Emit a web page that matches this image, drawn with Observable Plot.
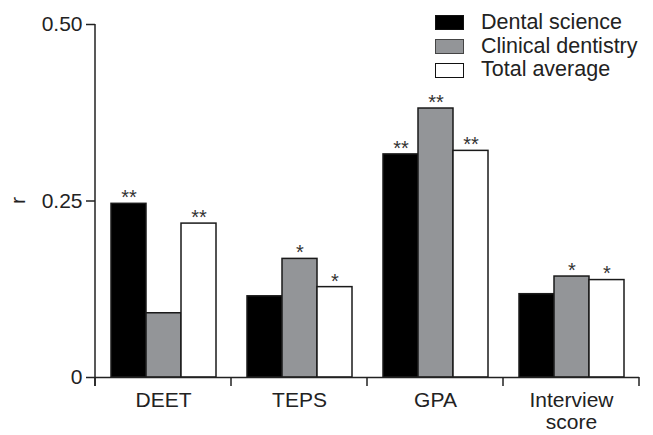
<!DOCTYPE html>
<html>
<head>
<meta charset="utf-8">
<script src="https://cdn.jsdelivr.net/npm/d3@7"></script>
<script src="https://cdn.jsdelivr.net/npm/@observablehq/plot@0.6"></script>
<style>
  html, body { margin: 0; padding: 0; background: #fff; }
  #wrap { position: relative; width: 653px; height: 435px; font-family: "Liberation Sans", Arial, sans-serif; }
  #legend { position: absolute; left: 435px; top: 11px; }
  .row { display: flex; align-items: center; height: 23.7px; }
  .sw { width: 27px; height: 13px; box-sizing: content-box; margin-right: 17px; }
  .lab { font-size: 21.5px; color: #222; line-height: 1; }
</style>
</head>
<body>
<div id="wrap"><div id="legend"></div></div>
<script>
const categories = ["DEET", "TEPS", "GPA", "Interview score"];
const series = ["Dental science", "Clinical dentistry", "Total average"];
const dentalScience = [0.246, 0.115, 0.316, 0.118];
const clinicalDentistry = [0.091, 0.168, 0.381, 0.143];
const totalAverage = [0.218, 0.128, 0.321, 0.138];
const dentalStars = ["**", "", "**", ""];
const clinicalStars = ["", "*", "**", "*"];
const totalStars = ["**", "*", "**", "*"];
const yTicks = [0, 0.25, 0.5];
const yTickLabels = ["0", "0.25", "0.50"];
const yLabel = "r";
const seriesFill = ["#000000", "#939598", "#ffffff"];

const values = [dentalScience, clinicalDentistry, totalAverage];
const stars = [dentalStars, clinicalStars, totalStars];
const rows = [];
categories.forEach((c, i) => {
  series.forEach((s, j) => {
    rows.push({category: c, series: s, value: values[j][i], stars: stars[j][i]});
  });
});

const chart = Plot.plot({
  width: 653,
  height: 435,
  marginLeft: 95,
  marginRight: 14,
  marginTop: 24,
  marginBottom: 58,
  style: {fontFamily: "'Liberation Sans', Arial, sans-serif", fontSize: "21px", color: "#222", background: "white", overflow: "visible"},
  fx: {domain: categories, padding: 0, label: null},
  x: {domain: series, axis: null, paddingInner: 0, paddingOuter: 0.41},
  y: {domain: [0, 0.5], label: null},
  color: {domain: series, range: seriesFill},
  marks: [
    Plot.axisY({ticks: yTicks, tickFormat: d => yTickLabels[yTicks.indexOf(d)], tickSize: 9, tickPadding: 4,
                fontSize: 21, label: null, stroke: "#222", strokeWidth: 1.5}),
    Plot.axisFx({anchor: "bottom", tickSize: 0, tickPadding: 13, fontSize: 21, lineHeight: 1.08, label: null,
                 tickFormat: d => d === "Interview score" ? "Interview\nscore" : d}),
    Plot.barY(rows, {fx: "category", x: "series", y: "value", fill: "series", stroke: "#1a1a1a", strokeWidth: 1.5}),
    Plot.text(rows, {fx: "category", x: "series", y: "value", text: "stars", dy: -6, fontSize: 20, fill: "#333"}),
    Plot.ruleY([0], {stroke: "#222", strokeWidth: 1.5})
  ]
});

document.getElementById("wrap").appendChild(chart);

// axis lines, band-edge ticks and rotated y label, placed with the library's scales
const fx = chart.scale("fx");
const y = chart.scale("y");
const svg = d3.select(chart);
const [r0, r1] = fx.range;
const edges = d3.range(categories.length + 1).map(i => r0 + i * (r1 - r0) / categories.length);
const y0 = y.apply(0);
const yTop = y.apply(0.5);
const g = svg.append("g").attr("stroke", "#222").attr("stroke-width", 1.5);
g.append("line").attr("x1", r0).attr("x2", r0).attr("y1", yTop).attr("y2", y0 + 9);
edges.forEach(x => g.append("line").attr("x1", x).attr("x2", x).attr("y1", y0).attr("y2", y0 + 9));
const yMid = y.apply(0.25);
svg.append("text")
  .attr("transform", `translate(${r0 - 70},${yMid}) rotate(-90)`)
  .attr("text-anchor", "middle")
  .attr("font-size", 21)
  .attr("fill", "#222")
  .text(yLabel);

// legend
const legend = d3.select("#legend");
series.forEach((s, j) => {
  const row = legend.append("div").attr("class", "row");
  row.append("div").attr("class", "sw")
    .style("background", seriesFill[j])
    .style("border", "1.5px solid " + (j === 1 ? "#444" : "#111"));
  row.append("div").attr("class", "lab").text(s);
});
</script>
</body>
</html>
